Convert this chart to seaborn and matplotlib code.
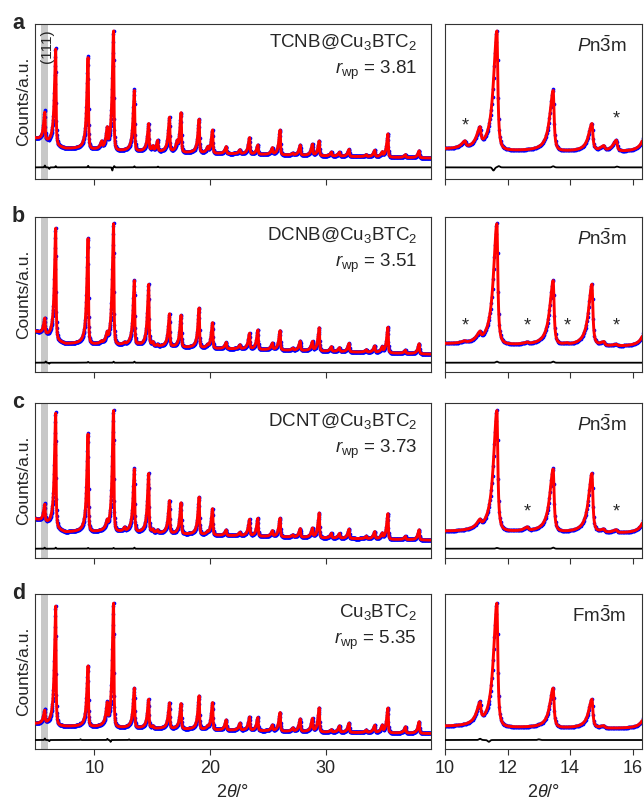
import numpy as np
import matplotlib
matplotlib.use("Agg")
import matplotlib.pyplot as plt
import seaborn as sns

# Bragg peak positions (2theta, deg) of the Cu3BTC2 framework
PEAK_POS = [5.72, 6.66, 9.46, 11.12, 11.66, 13.46, 14.70, 15.08, 16.50, 17.50,
            19.06, 19.82, 20.22, 21.40, 22.60, 23.42, 24.14, 25.40, 26.06, 27.18,
            27.80, 28.86, 29.44, 30.50, 31.20, 32.02, 33.52, 34.24, 34.90, 35.38,
            36.90, 38.08]

# peak heights above background, one list per sample (fraction of panel height)
HEIGHT_TCNB = [0.18, 0.62, 0.59, 0.11, 0.77, 0.39, 0.175, 0.03, 0.22, 0.255,
               0.215, 0.03, 0.15, 0.045, 0.025, 0.105, 0.06, 0.04, 0.16, 0.01,
               0.065, 0.07, 0.095, 0.025, 0.025, 0.045, 0.012, 0.04, 0.025, 0.15,
               0.018, 0.045]
HEIGHT_DCNB = [0.10, 0.72, 0.68, 0.045, 0.78, 0.415, 0.395, 0.025, 0.21, 0.205,
               0.255, 0.012, 0.165, 0.04, 0.025, 0.10, 0.125, 0.04, 0.125, 0.012,
               0.06, 0.055, 0.15, 0.03, 0.025, 0.055, 0.015, 0.04, 0.03, 0.165,
               0.02, 0.065]
HEIGHT_DCNT = [0.11, 0.74, 0.63, 0.04, 0.78, 0.405, 0.38, 0.02, 0.21, 0.20,
               0.24, 0.012, 0.17, 0.035, 0.02, 0.105, 0.115, 0.035, 0.12, 0.012,
               0.055, 0.055, 0.16, 0.03, 0.03, 0.06, 0.015, 0.045, 0.03, 0.165,
               0.02, 0.065]
HEIGHT_CU3BTC2 = [0.08, 0.77, 0.39, 0.12, 0.80, 0.255, 0.185, 0.015, 0.165, 0.163,
                  0.215, 0.012, 0.175, 0.065, 0.045, 0.085, 0.085, 0.035, 0.12, 0.02,
                  0.08, 0.08, 0.155, 0.015, 0.04, 0.06, 0.015, 0.045, 0.04, 0.16,
                  0.04, 0.075]

# impurity reflections (marked with *) per sample
IMP_POS_TCNB = [10.64, 15.48, 17.17]
IMP_H_TCNB = [0.04, 0.07, 0.045]
IMP_POS_DCNB = [10.64, 12.64, 13.91, 15.48]
IMP_H_DCNB = [0.01, 0.01, 0.008, 0.01]
IMP_POS_DCNT = [12.64, 15.48]
IMP_H_DCNT = [0.022, 0.018]
IMP_POS_CU3BTC2 = []
IMP_H_CU3BTC2 = []

# background anchors
BG_X = [4.8, 7.5, 12, 20, 30, 39.3]
BG_TCNB = [0.26, 0.195, 0.18, 0.165, 0.148, 0.135]
BG_DCNB = [0.26, 0.18, 0.172, 0.152, 0.133, 0.115]
BG_DCNT = [0.25, 0.165, 0.167, 0.147, 0.128, 0.115]
BG_CU3BTC2 = [0.16, 0.145, 0.137, 0.123, 0.108, 0.10]

# difference curve: level and misfit bumps (position, amplitude)
DIFF_LEVEL = [0.075, 0.06, 0.06, 0.058]
RES_POS_TCNB = [5.72, 6.10, 6.66, 9.46, 11.55, 11.72, 13.46, 15.5]
RES_AMP_TCNB = [0.012, -0.01, 0.008, 0.01, -0.02, 0.008, 0.007, 0.005]
RES_POS_DCNB = [5.80, 6.10, 9.46, 11.66, 13.46]
RES_AMP_DCNB = [0.008, -0.006, 0.005, 0.007, 0.007]
RES_POS_DCNT = [5.70, 6.66, 9.46, 11.66, 13.46]
RES_AMP_DCNT = [0.007, 0.007, 0.005, 0.005, 0.007]
RES_POS_CU3BTC2 = [5.72, 6.10, 8.80, 11.12, 11.40, 13.0]
RES_AMP_CU3BTC2 = [0.01, -0.008, 0.005, 0.008, -0.012, 0.004]

SAMPLES = ["TCNB@Cu$_3$BTC$_2$", "DCNB@Cu$_3$BTC$_2$", "DCNT@Cu$_3$BTC$_2$", "Cu$_3$BTC$_2$"]
RWP = ["3.81", "3.51", "3.73", "5.35"]
SPACE_GROUP = [r"$\mathit{P}\mathrm{n}\bar{\mathrm{3}}\mathrm{m}$"] * 3 + [r"$\mathrm{Fm}\bar{\mathrm{3}}\mathrm{m}$"]
PANEL_LABELS = ["a", "b", "c", "d"]
STAR_X = [[10.64, 15.48], [10.64, 12.64, 13.91, 15.48], [12.64, 15.48], []]
STAR_Y = [[0.34, 0.39], [0.295] * 4, [0.30, 0.30], []]

HEIGHTS = [HEIGHT_TCNB, HEIGHT_DCNB, HEIGHT_DCNT, HEIGHT_CU3BTC2]
IMP_POS = [IMP_POS_TCNB, IMP_POS_DCNB, IMP_POS_DCNT, IMP_POS_CU3BTC2]
IMP_H = [IMP_H_TCNB, IMP_H_DCNB, IMP_H_DCNT, IMP_H_CU3BTC2]
BGS = [BG_TCNB, BG_DCNB, BG_DCNT, BG_CU3BTC2]
RES_POS = [RES_POS_TCNB, RES_POS_DCNB, RES_POS_DCNT, RES_POS_CU3BTC2]
RES_AMP = [RES_AMP_TCNB, RES_AMP_DCNB, RES_AMP_DCNT, RES_AMP_CU3BTC2]

W_LEFT, W_RIGHT = 0.13, 0.035  # asymmetric peak half widths


def calc_pattern(x, pos, heights, bg):
    y = np.interp(x, BG_X, bg)
    for p, h in zip(pos, heights):
        w = np.where(x < p, W_LEFT, W_RIGHT)
        y = y + h * w**2 / (w**2 + (x - p) ** 2)
    return y


def residual(x, pos, amp):
    r = np.zeros_like(x)
    for p, a in zip(pos, amp):
        r += a * np.exp(-((x - p) / 0.05) ** 2)
    return r


sns.set_style("ticks")
plt.rcParams["font.family"] = ["Liberation Sans", "DejaVu Sans"]
plt.rcParams["mathtext.fontset"] = "custom"
plt.rcParams["mathtext.rm"] = "Liberation Sans"
plt.rcParams["mathtext.it"] = "Liberation Sans:italic"
plt.rcParams["mathtext.bf"] = "Liberation Sans:bold"

fig = plt.figure(figsize=(6.44, 8.05), dpi=100)
W, H = 644, 805
tops = [24, 217, 403, 594]
ph = 155

x = np.arange(4.8, 39.3, 0.005)
xo = x[::4]

for i in range(4):
    calc = calc_pattern(x, PEAK_POS + IMP_POS[i], HEIGHTS[i] + IMP_H[i], BGS[i])
    res = residual(x, RES_POS[i], RES_AMP[i])
    obs = calc + res
    diff = DIFF_LEVEL[i] + res

    y0 = 1 - (tops[i] + ph) / H
    axl = fig.add_axes([35 / W, y0, 396 / W, ph / H])
    axr = fig.add_axes([445 / W, y0, 197 / W, ph / H])

    for ax in (axl, axr):
        ax.axvspan(5.38, 5.98, color="#c8c8c8", lw=0, zorder=0)
        sns.scatterplot(x=xo, y=obs[::4], ax=ax, color="blue", s=7, linewidth=0, zorder=2)
        sns.lineplot(x=x, y=calc, ax=ax, color="red", lw=2.1, estimator=None, sort=False, zorder=3)
        sns.lineplot(x=x, y=diff, ax=ax, color="black", lw=1.3, estimator=None, sort=False, zorder=3)
        ax.set_ylim(0, 1)
        ax.set_yticks([])
        ax.set_ylabel("")
        for s in ax.spines.values():
            s.set_color("#333333")
            s.set_linewidth(0.8)
        ax.tick_params(axis="x", direction="out", length=4, width=0.8, color="#333333",
                       labelsize=13, pad=4)

    axl.set_xlim(4.87, 39.1)
    axl.set_xticks([10, 20, 30])
    axr.set_xlim(10, 16.3)
    axr.set_xticks([10, 12, 14, 16])
    if i < 3:
        axl.set_xticklabels([])
        axr.set_xticklabels([])
    else:
        axl.set_xlabel(r"2$\mathit{\theta}$/°", fontsize=13, labelpad=5)
        axr.set_xlabel(r"2$\mathit{\theta}$/°", fontsize=13, labelpad=5)

    axl.set_ylabel("Counts/a.u.", fontsize=12.5, labelpad=3)

    axl.text(0.965, 0.95, SAMPLES[i], transform=axl.transAxes, ha="right", va="top", fontsize=13.5)
    axl.text(0.965, 0.775, r"$\mathit{r}_{\mathrm{wp}}$ = " + RWP[i], transform=axl.transAxes,
             ha="right", va="top", fontsize=13.5)
    axr.text(0.92, 0.86, SPACE_GROUP[i], transform=axr.transAxes, ha="right", va="center", fontsize=13.5)
    for sx, sy in zip(STAR_X[i], STAR_Y[i]):
        axr.text(sx, sy, "*", ha="center", va="center", fontsize=13)
    if i == 0:
        axl.text(5.88, 0.855, "(111)", rotation=90, ha="center", va="center", fontsize=11)

    fig.text(12 / W, 1 - (tops[i] + 5) / H, PANEL_LABELS[i], fontsize=15.5, fontweight="bold",
             ha="left", va="baseline")

fig.savefig("out.png", dpi=100)
